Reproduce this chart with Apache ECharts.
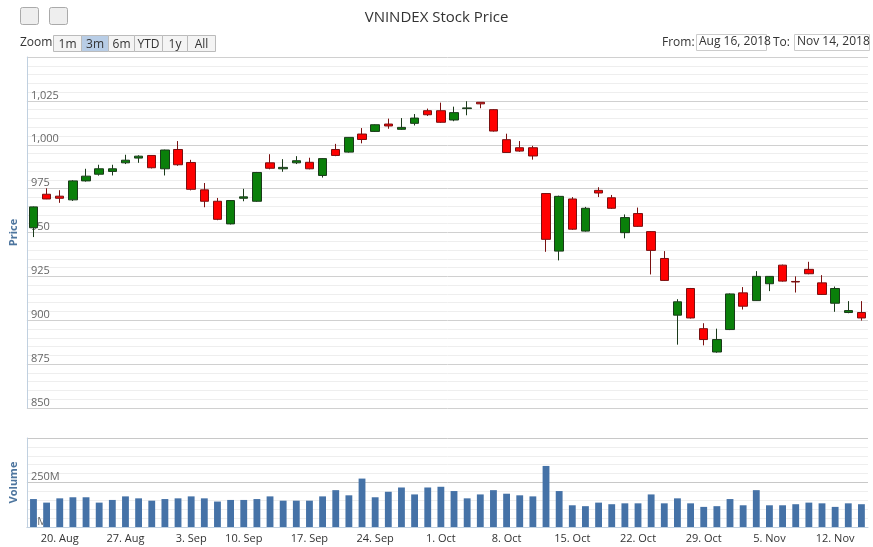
<!DOCTYPE html>
<html>
<head>
<meta charset="utf-8">
<script src="https://cdn.jsdelivr.net/npm/echarts@6/dist/echarts.min.js"></script>
<style>
  body { margin: 0; background: #fff; }
  #main { width: 873px; height: 547px; }
</style>
</head>
<body>
<div id="main"></div>
<script>
  var dates = ['Aug 16','Aug 17','Aug 20','Aug 21','Aug 22','Aug 23','Aug 24','Aug 27','Aug 28','Aug 29','Aug 30','Aug 31',
    'Sep 4','Sep 5','Sep 6','Sep 7','Sep 10','Sep 11','Sep 12','Sep 13','Sep 14','Sep 17','Sep 18','Sep 19','Sep 20','Sep 21',
    'Sep 24','Sep 25','Sep 26','Sep 27','Sep 28','Oct 1','Oct 2','Oct 3','Oct 4','Oct 5','Oct 8','Oct 9','Oct 10','Oct 11','Oct 12',
    'Oct 15','Oct 16','Oct 17','Oct 18','Oct 19','Oct 22','Oct 23','Oct 24','Oct 25','Oct 26','Oct 29','Oct 30','Oct 31','Nov 1','Nov 2',
    'Nov 5','Nov 6','Nov 7','Nov 8','Nov 9','Nov 12','Nov 13','Nov 14'];

  // open, close, low, high
  var ohlc = [
    [952.7,964.6,947.4,964.8],[971.8,969.1,969.0,975.2],[970.7,969.5,966.9,974.1],[968.6,979.4,968.0,979.8],
    [979.4,982.1,979.0,986.3],[983.2,986.3,982.4,988.6],[984.8,986.3,982.5,988.6],[989.7,991.2,989.0,994.3],
    [992.4,993.5,989.7,994.0],[993.9,986.9,986.5,994.0],[986.3,997.0,982.5,997.2],[997.3,988.6,988.0,1002.1],
    [989.9,974.6,974.0,991.4],[974.3,967.8,964.4,978.2],[967.8,957.5,957.0,969.7],[954.9,968.2,954.6,968.5],
    [969.5,970.3,967.8,974.9],[967.8,984.2,967.5,984.5],[989.7,986.6,986.0,994.6],[986.3,987.1,984.6,991.8],
    [989.7,990.9,989.0,993.5],[990.0,986.3,986.0,992.6],[982.5,992.1,981.3,992.3],[997.3,993.9,993.5,1000.5],
    [995.8,1004.2,995.5,1004.3],[1006.1,1003.0,1000.8,1009.5],[1007.6,1011.4,1007.3,1011.6],[1011.8,1010.7,1009.1,1014.9],
    [1008.8,1009.9,1008.5,1015.2],[1012.2,1015.2,1011.0,1017.5],[1019.4,1017.1,1016.4,1020.6],[1019.4,1012.8,1012.5,1024.0],
    [1014.1,1018.3,1013.4,1021.7],[1020.6,1021.0,1016.8,1024.8],[1024.2,1023.3,1020.8,1024.3],[1020.0,1007.8,1007.5,1020.3],
    [1002.9,995.6,995.3,1006.3],[998.3,996.4,996.0,1002.1],[998.3,993.6,991.5,999.4],[972.2,946.1,939.0,972.5],
    [939.4,970.6,934.1,971.0],[969.1,951.9,951.5,970.2],[950.8,963.8,950.5,964.6],[974.0,972.5,970.2,975.8],
    [969.8,963.8,963.4,971.4],[949.9,958.5,946.7,960.3],[960.8,953.5,953.2,964.2],[950.5,939.8,926.1,950.8],
    [935.2,922.7,922.4,939.4],[902.9,910.5,886.1,912.0],[918.1,901.3,901.0,918.4],[895.2,889.0,885.7,898.3],
    [881.9,889.0,881.5,895.2],[894.7,915.0,894.4,915.3],[915.6,908.0,906.1,918.9],[911.2,925.0,911.0,928.0],
    [920.8,925.0,916.6,925.2],[931.4,922.3,922.0,931.7],[922.1,921.8,915.8,925.0],[929.0,926.5,926.2,933.3],
    [921.3,914.7,914.4,925.7],[909.7,918.1,904.8,919.2],[904.4,905.5,904.0,910.9],[904.4,901.3,899.8,910.9]
  ];

  // millions
  var volumes = [157,137,161,167,167,137,152,172,161,148,157,161,172,161,143,152,152,157,172,148,148,148,172,207,178,272,167,198,222,183,222,226,
    202,161,183,207,187,178,172,343,202,122,117,137,128,133,133,183,133,161,133,113,117,157,122,207,122,122,128,137,133,113,133,128];

  var weekLabels = {2:'20. Aug',7:'27. Aug',12:'3. Sep',16:'10. Sep',21:'17. Sep',26:'24. Sep',31:'1. Oct',
    36:'8. Oct',41:'15. Oct',46:'22. Oct',51:'29. Oct',56:'5. Nov',61:'12. Nov'};

  var font = 'Open Sans, DejaVu Sans, sans-serif';
  var myChart = echarts.init(document.getElementById('main'));

  function btn(x, w, label, active) {
    return {
      type: 'group', left: x, top: 35,
      children: [
        { type: 'rect', shape: { x: 0, y: 0, width: w, height: 16 },
          style: { fill: active ? '#b8cde6' : '#f4f4f4', stroke: '#bbb', lineWidth: 1 } },
        { type: 'text', x: w / 2, y: 3, style: { text: label, fill: '#333', font: '12px ' + font, textAlign: 'center' } }
      ]
    };
  }

  var option = {
    animation: false,
    title: {
      text: 'VNINDEX Stock Price', left: 'center', top: 5,
      textStyle: { fontFamily: font, fontSize: 15, fontWeight: 'normal', color: '#333' }
    },
    graphic: [
      { type: 'rect', left: 20, top: 7, shape: { width: 18, height: 17, r: 2 }, style: { fill: '#eee', stroke: '#aaa' } },
      { type: 'rect', left: 49, top: 7, shape: { width: 18, height: 17, r: 2 }, style: { fill: '#eee', stroke: '#aaa' } },
      { type: 'text', left: 20, top: 37, style: { text: 'Zoom', fill: '#333', font: '12px ' + font } },
      btn(53, 28, '1m'), btn(81, 27, '3m', true), btn(108, 26, '6m'), btn(134, 28, 'YTD'), btn(162, 25, '1y'), btn(187, 28, 'All'),
      { type: 'text', left: 662, top: 37, style: { text: 'From:', fill: '#333', font: '12px ' + font } },
      { type: 'rect', left: 696, top: 34, shape: { width: 70, height: 16 }, style: { fill: '#fff', stroke: '#ccc' } },
      { type: 'text', left: 699, top: 36, style: { text: 'Aug 16, 2018', fill: '#333', font: '12px ' + font } },
      { type: 'text', left: 773, top: 37, style: { text: 'To:', fill: '#333', font: '12px ' + font } },
      { type: 'rect', left: 794, top: 34, shape: { width: 75, height: 16 }, style: { fill: '#fff', stroke: '#ccc' } },
      { type: 'text', left: 797, top: 36, style: { text: 'Nov 14, 2018', fill: '#333', font: '12px ' + font } }
    ],
    grid: [
      { left: 17, right: 5, top: 57, height: 351 },
      { left: 17, right: 5, top: 438, height: 89 }
    ],
    xAxis: [
      { type: 'category', data: dates, gridIndex: 0,
        axisLine: { show: false }, axisTick: { show: false }, axisLabel: { show: false }, splitLine: { show: false } },
      { type: 'category', data: dates, gridIndex: 1,
        axisLine: { lineStyle: { color: '#c0d0e0' } },
        axisTick: { interval: function (i) { return weekLabels[i] !== undefined; }, lineStyle: { color: '#c0d0e0' }, length: 5 },
        axisLabel: { interval: function (i) { return weekLabels[i] !== undefined; },
          formatter: function (v, i) { return weekLabels[i] || ''; },
          color: '#333', fontFamily: font, fontSize: 11, margin: 6 } }
    ],
    yAxis: [
      { type: 'value', gridIndex: 0, min: 850, max: 1050, interval: 25,
        name: 'Price', nameLocation: 'middle', nameGap: 4, nameRotate: 90,
        nameTextStyle: { color: '#4d759e', fontWeight: 'bold', fontFamily: font, fontSize: 11 },
        axisLine: { show: true, lineStyle: { color: '#c0d0e0' } },
        axisLabel: { inside: true, showMaxLabel: false, verticalAlign: 'bottom', margin: 4, color: '#666', fontFamily: font, fontSize: 11,
          formatter: function (v) { return v.toLocaleString('en-US'); } },
        splitLine: { lineStyle: { color: '#d0d0d0' } },
        minorTick: { show: false, splitNumber: 5 },
        minorSplitLine: { show: true, lineStyle: { color: '#eeeeee' } } },
      { type: 'value', gridIndex: 1, min: 0, max: 500, interval: 250,
        name: 'Volume', nameLocation: 'middle', nameGap: 4, nameRotate: 90,
        nameTextStyle: { color: '#4d759e', fontWeight: 'bold', fontFamily: font, fontSize: 11 },
        axisLine: { show: true, lineStyle: { color: '#c0d0e0' } },
        axisLabel: { inside: true, showMaxLabel: false, verticalAlign: 'bottom', margin: 4, color: '#666', fontFamily: font, fontSize: 11,
          formatter: function (v) { return v + 'M'; } },
        splitLine: { lineStyle: { color: '#c8c8c8' } },
        minorTick: { show: false, splitNumber: 5 },
        minorSplitLine: { show: true, lineStyle: { color: '#eeeeee' } } }
    ],
    series: [
      { type: 'candlestick', xAxisIndex: 0, yAxisIndex: 0, barWidth: '68%',
        data: ohlc,
        itemStyle: { color: '#0a800a', color0: '#ff0000', borderColor: '#1a3a1a', borderColor0: '#7a1010', borderWidth: 1 } },
      { type: 'bar', xAxisIndex: 1, yAxisIndex: 1, barWidth: '52%',
        data: volumes, itemStyle: { color: '#4572a7' } }
    ]
  };

  option && myChart.setOption(option);
</script>
</body>
</html>
